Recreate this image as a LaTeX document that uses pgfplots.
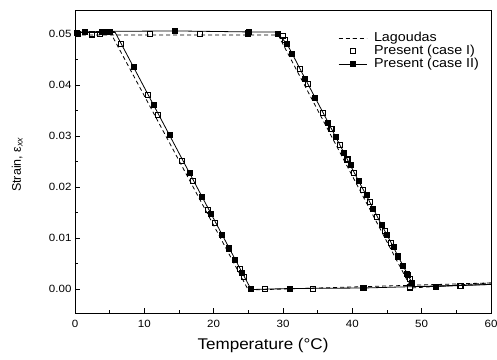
\documentclass[border=0pt]{standalone}
\usepackage{pgfplots}
\pgfplotsset{compat=1.18}
\usepackage{fontspec}
\setmainfont{Liberation Sans}
\newfontfamily\widesans[FakeStretch=1.1]{Liberation Sans}
\begin{document}
\begin{tikzpicture}
\begin{axis}[
 name=ax,
 scale only axis, width=416pt, height=303pt,
 xmin=0, xmax=60, ymin=-0.0047, ymax=0.0547,
 xtick={0,10,20,30,40,50,60},
 ytick={0,0.01,0.02,0.03,0.04,0.05},
 minor x tick num=1, minor y tick num=1,
 tick align=inside, xtick pos=bottom, ytick pos=left,
 major tick length=5pt, minor tick length=3pt,
 tick style={black, line width=0.8pt},
 axis line style={line width=0.9pt},
 scaled y ticks=false,
 yticklabel style={/pgf/number format/.cd, fixed, fixed zerofill, precision=2},
 /pgf/number format/assume math mode=true,
 ticklabel style={font=\widesans\fontsize{10.5}{12}\selectfont},
 xticklabel style={yshift=-4pt},
 xlabel={Temperature (°C)},
 ylabel={Strain, ε\textsubscript{\textit{xx}}},
 xlabel style={font=\widesans\fontsize{15.5}{17}\selectfont, at={(axis description cs:0.452,-0.106)}, anchor=center},
 ylabel style={font=\fontsize{12.5}{15}\selectfont, at={(axis description cs:-0.139,0.49)}, anchor=center},
 legend image code/.code={\draw[mark repeat=2,mark phase=2,#1] plot coordinates {(0pt,0pt) (14pt,0pt) (28pt,0pt)};},
 legend style={at={(axis description cs:0.625,0.935)}, anchor=north west, draw=none, fill=none,
   font=\widesans\fontsize{13}{13}\selectfont, row sep=0pt,
   nodes={inner ysep=0pt, inner xsep=0pt, text height=9.5pt, text depth=3.5pt}},
 legend cell align=left,
]
% Lagoudas
\addplot[black, line width=0.8pt, dash pattern=on 4pt off 3pt, forget plot] coordinates {
(0,0.0498) (29.3,0.0498) (48.5,0.0002) (60,0.0012)};
\addplot[black, line width=0.8pt, dash pattern=on 4pt off 3pt, forget plot] coordinates {
(60,0.0012) (25.0,-0.0002) (5.3,0.0498)};
% case II lines
\addplot[black, line width=0.8pt, forget plot] coordinates {
(0,0.0503) (1.4,0.0504) (4.3,0.0505) (14.4,0.0506) (25.0,0.0504) (28.9,0.0504) (29.3,0.0500)
(30.6,0.0480) (31.3,0.0462) (33.2,0.0412) (34.6,0.0376) (36.5,0.0327) (37.6,0.0298)
(38.8,0.0267) (39.7,0.0243) (40.9,0.0212) (42.0,0.0184) (43.0,0.0158) (44.2,0.0126) (45.0,0.0106)
(45.9,0.0083) (46.6,0.0064) (47.3,0.0046) (48.0,0.0028) (48.6,0.0012) (48.9,0.0005) (52.0,0.0005) (60,0.0009)};
\addplot[black, line width=0.8pt, forget plot] coordinates {
(60,0.0009) (41.6,0.0002) (30.9,0.0001) (25.4,-0.0001) (5.8,0.0503) (0,0.0503)};
% case II markers
\addplot[black, only marks, mark=square*, mark size=2.5pt, forget plot] coordinates {
(0.3,0.0503) (1.4,0.0504) (3.9,0.0504) (4.3,0.0505) (5.0,0.0504) (14.4,0.0506) (25.0,0.0504)
(8.4,0.0436) (11.3,0.0361) (13.6,0.0302) (16.5,0.0228) (18.3,0.0181) (19.6,0.0148) (21.2,0.0107)
(22.2,0.0081) (23.1,0.0058) (24.1,0.0032) (25.4,0.0000)
(30.9,0.0001) (41.6,0.0002) (52.0,0.0005)
(29.3,0.0500) (30.6,0.0480) (31.3,0.0462) (33.2,0.0412) (34.6,0.0376) (36.5,0.0327) (37.6,0.0298)
(38.8,0.0267) (39.7,0.0243) (40.9,0.0212) (42.0,0.0184) (43.0,0.0158) (44.2,0.0126) (45.0,0.0106)
(45.9,0.0083) (46.6,0.0064) (47.3,0.0046) (48.0,0.0028) (48.6,0.0012)};
% case I markers
\addplot[black, only marks, mark=square, mark size=2.5pt, mark options={line width=1.1pt, fill=white}, forget plot] coordinates {
(0.4,0.0500) (2.5,0.0499) (3.6,0.0500) (10.8,0.0500) (18.0,0.0500) (25.0,0.0501)
(6.6,0.0480) (10.5,0.0380) (12.0,0.0342) (15.4,0.0251) (17.0,0.0212) (19.2,0.0155) (20.2,0.0130)
(22.2,0.0079) (23.8,0.0039) (24.4,0.0024)
(27.4,0.0000) (34.3,0.0000) (41.6,0.0002) (48.3,0.0003) (55.6,0.0006)
(30.0,0.0496) (30.3,0.0488) (32.5,0.0431) (33.6,0.0402) (35.8,0.0345) (37.0,0.0314) (38.2,0.0282)
(39.3,0.0254) (40.3,0.0228) (41.6,0.0194) (42.5,0.0171) (43.6,0.0142) (44.7,0.0113) (45.6,0.0090)
(46.6,0.0064) (47.3,0.0046) (47.9,0.0030) (48.3,0.0020)};
\addlegendimage{black, line width=0.8pt, dash pattern=on 4pt off 3pt}
\addlegendentry{\hspace{7pt}Lagoudas}
\addlegendimage{black, only marks, mark=square, mark size=2.5pt, mark options={line width=1.1pt}}
\addlegendentry{\hspace{7pt}Present (case I)}
\addlegendimage{black, line width=0.8pt, mark=square*, mark size=2.5pt}
\addlegendentry{\hspace{7pt}Present (case II)}
\end{axis}
\pgfresetboundingbox
\path ([shift={(-75pt,-46pt)}]ax.south west) rectangle ([shift={(6pt,10pt)}]ax.north east);
\end{tikzpicture}
\end{document}
